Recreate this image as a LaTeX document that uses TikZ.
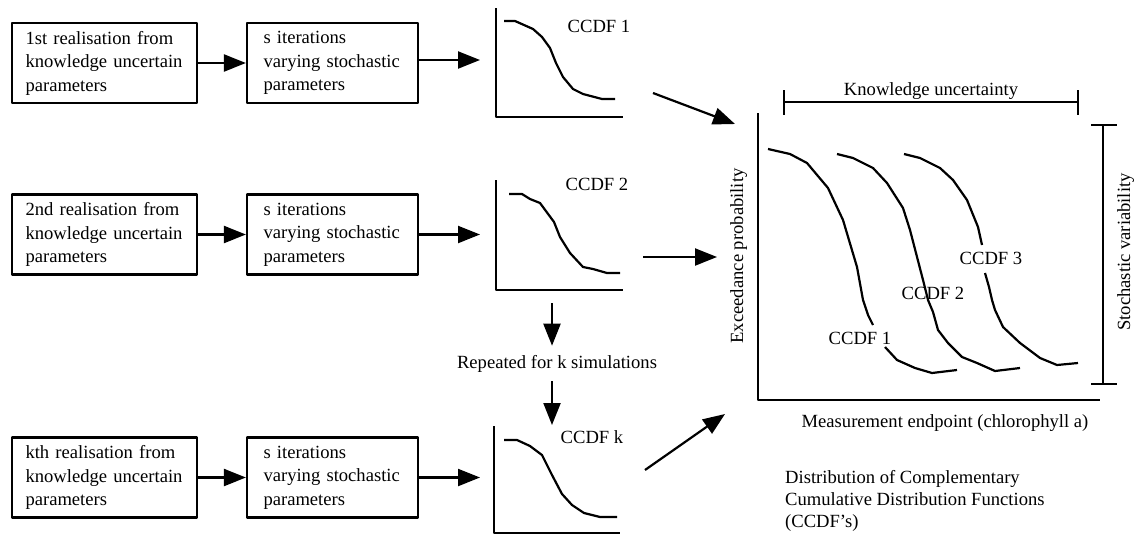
\documentclass[tikz,border=0pt]{standalone}
\usepackage{fontspec}
\setmainfont{Liberation Serif}
\usetikzlibrary{arrows.meta}
\begin{document}
\begin{tikzpicture}[x=1pt,y=-1pt,
  font=\fontsize{18.6}{23.5}\selectfont,
  line join=round,
  ln/.style={line width=2.2pt},
  arr/.style={line width=2.2pt,-{Triangle[length=22pt,width=17pt]}},
  kbox/.style={draw,line width=2.2pt,minimum width=185pt,minimum height=80pt,
    text width=158pt,align=left,inner sep=0pt},
  sbox/.style={draw,line width=2.2pt,minimum width=171pt,minimum height=80pt,
    text width=138pt,align=left,inner sep=0pt},
  lbl/.style={anchor=base,inner sep=0pt}]
\useasboundingbox (0,0) rectangle (1139,536);

% realisation boxes and iteration boxes
\node[kbox] (k1) at (104.5,63)   {1st realisation from\\knowledge uncertain\\parameters};
\node[sbox] (s1) at (332.5,63)   {s iterations\\varying stochastic\\parameters};
\node[kbox] (k2) at (104.5,234.5){2nd realisation from\\knowledge uncertain\\parameters};
\node[sbox] (s2) at (332.5,234.5){s iterations\\varying stochastic\\parameters};
\node[kbox] (kk) at (104.5,477.5){kth realisation from\\knowledge uncertain\\parameters};
\node[sbox] (sk) at (332.5,477.5){s iterations\\varying stochastic\\parameters};

% entry points of the small CCDF plots
\coordinate (p1in) at (480,60);
\coordinate (p2in) at (480,234.5);
\coordinate (pkin) at (480,477.5);

\draw[arr] (k1.east) -- (s1.west);
\draw[arr] (s1.east |- p1in) -- (p1in);
\draw[arr] (k2.east) -- (s2.west);
\draw[arr] (s2.east) -- (p2in);
\draw[arr] (kk.east) -- (sk.west);
\draw[arr] (sk.east) -- (pkin);

% small CCDF plot 1
\draw[ln] (496,8) -- (496,117) -- (623,117);
\draw[ln] (504,21) -- (515,21) -- (533,29) -- (542,37) -- (550,48) -- (556,63)
  -- (563,77) -- (573,89) -- (583,94) -- (602,99) -- (615,99);
\node[lbl] (c1) at (599,32) {CCDF 1};

% small CCDF plot 2
\draw[ln] (496,180) -- (496,290) -- (623,290);
\draw[ln] (509,194) -- (522,194) -- (530,199) -- (540,203) -- (554,222) -- (560,237)
  -- (570,253) -- (583,267) -- (593,269) -- (607,273) -- (620,273);
\node[lbl] (c2) at (597,190) {CCDF 2};

% small CCDF plot k
\draw[ln] (494,426) -- (494,533) -- (620,533);
\draw[ln] (504,440) -- (517,440) -- (530,446) -- (542,455) -- (552,475) -- (562,494)
  -- (572,505) -- (584,513) -- (600,517) -- (617,517);
\node[lbl] (ck) at (592,443) {CCDF k};

% repetition between plot 2 and plot k
\node[anchor=base,inner xsep=0pt,inner ysep=9pt] (rep) at (557,368) {Repeated for k simulations};
\coordinate (p2foot) at (552,303);
\coordinate (pkhead) at (552,425);
\draw[arr] (p2foot) -- (p2foot |- rep.north);
\draw[arr] (rep.south -| p2foot) -- (pkhead);

% arrows into the combined plot
\coordinate (o1) at (653,93);
\coordinate (o2) at (643,257);
\coordinate (ok) at (645,470);
\coordinate (i1) at (735,124);
\coordinate (i2) at (717,257);
\coordinate (ik) at (725,414);
\draw[arr] (o1) -- (i1);
\draw[arr] (o2) -- (i2);
\draw[arr] (ok) -- (ik);

% combined plot: axes
\draw[ln] (758,113) -- (758,400) -- (1100,400);
\node[lbl,rotate=90] (ylab) at (743,256) {Exceedance probability};
\node[lbl] (xlab) at (945,427) {Measurement endpoint (chlorophyll a)};

% knowledge uncertainty bracket
\draw[ln] (784,90) -- (784,115);
\draw[ln] (1078,90) -- (1078,115);
\draw[ln] (784,102) -- (1078,102);
\node[lbl] (ku) at (931,95) {Knowledge uncertainty};

% stochastic variability bracket
\draw[ln] (1091,125) -- (1117,125);
\draw[ln] (1091,384) -- (1117,384);
\draw[ln] (1103,125) -- (1103,384);
\node[lbl,rotate=90] (sv) at (1130,252) {Stochastic variability};

% CCDF curves
\draw[ln] (768,149) -- (790,154) -- (807,163) -- (828,188) -- (843,220) -- (857,267)
  -- (863,300) -- (868,315) -- (873,325);
\draw[ln] (885,347) -- (897,360) -- (915,368) -- (932,373) -- (957,370);
\node[lbl] (bc1) at (860,344) {CCDF 1};

\draw[ln] (837,154) -- (853,158) -- (873,168) -- (887,183) -- (903,208) -- (910,230)
  -- (923,280) -- (928,300) -- (933,312) -- (938,330) -- (948,343) -- (962,357)
  -- (977,363) -- (995,371) -- (1020,368);
\node[lbl] (bc2) at (933,299) {CCDF 2};

\draw[ln] (904,154) -- (920,158) -- (940,168) -- (953,180) -- (967,200) -- (978,227)
  -- (982,245);
\draw[ln] (985,273) -- (989,287) -- (992,300) -- (995,310) -- (1003,327) -- (1020,343)
  -- (1040,358) -- (1057,365) -- (1078,363);
\node[lbl] (bc3) at (991,264) {CCDF 3};

% caption of the combined plot (base anchor sits on its last line)
\node[anchor=base west,inner sep=0pt,align=left,font=\fontsize{18.6}{22}\selectfont] (cap) at (785,527)
  {Distribution of Complementary\\Cumulative Distribution Functions\\(CCDF’s)};
\end{tikzpicture}
\end{document}
